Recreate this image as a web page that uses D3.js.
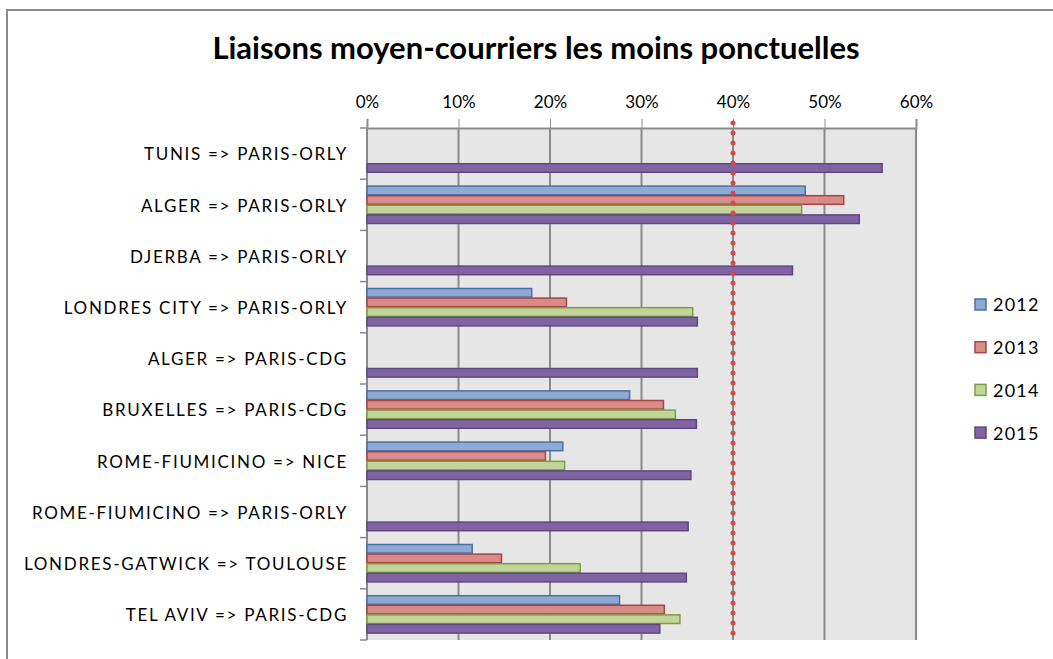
<!DOCTYPE html>
<html>
<head>
<meta charset="utf-8">
<script src="https://cdn.jsdelivr.net/npm/d3@7"></script>
<style>
    body { margin: 0; background: #fff; }
    text { font-family: Lato, "Open Sans", sans-serif; fill: #000; }
</style>
</head>
<body>
<script>
(function(){
    // chart data (percent of late flights)
    var routes = [
        "TUNIS => PARIS-ORLY",
        "ALGER => PARIS-ORLY",
        "DJERBA => PARIS-ORLY",
        "LONDRES CITY => PARIS-ORLY",
        "ALGER => PARIS-CDG",
        "BRUXELLES => PARIS-CDG",
        "ROME-FIUMICINO => NICE",
        "ROME-FIUMICINO => PARIS-ORLY",
        "LONDRES-GATWICK => TOULOUSE",
        "TEL AVIV => PARIS-CDG"
    ];
    var years = ["2012", "2013", "2014", "2015"];
    var v2012 = [null, 47.9, null, 18.0, null, 28.7, 21.4, null, 11.5, 27.6];
    var v2013 = [null, 52.1, null, 21.8, null, 32.4, 19.5, null, 14.7, 32.5];
    var v2014 = [null, 47.5, null, 35.6, null, 33.7, 21.6, null, 23.3, 34.2];
    var v2015 = [56.3, 53.8, 46.5, 36.1, 36.1, 36.0, 35.4, 35.1, 34.9, 32.0];
    var xTicks = [0, 10, 20, 30, 40, 50, 60];
    var threshold = 40;
    var chartTitle = "Liaisons moyen-courriers les moins ponctuelles";

    var seriesValues = [v2012, v2013, v2014, v2015];
    var fills = ["#8EAAD3", "#D78C8A", "#C2D497", "#8064A2"];
    var strokes = ["#4A70A6", "#A84542", "#7E9D46", "#5E4780"];

    var width = 1053,
        height = 659,
        plotLeft = 367,
        plotRight = 916,
        plotTop = 128,
        plotBottom = 640;

    var svg = d3.select("body")
        .append("svg")
        .attr("width", width)
        .attr("height", height);

    // outer chart frame
    svg.append("rect")
        .attr("x", 7)
        .attr("y", 10)
        .attr("width", width + 10)
        .attr("height", height + 10)
        .attr("fill", "#fff")
        .attr("stroke", "#8c8c8c")
        .attr("stroke-width", 2);

    svg.append("text")
        .attr("x", 536)
        .attr("y", 59)
        .attr("text-anchor", "middle")
        .style("font-size", "31px")
        .style("font-weight", "bold")
        .text(chartTitle);

    var x = d3.scaleLinear()
        .domain([0, 60])
        .range([plotLeft, plotRight]);

    var y = d3.scaleBand()
        .domain(routes)
        .range([plotTop, plotBottom])
        .paddingInner(0.25)
        .paddingOuter(0.125);

    var ySeries = d3.scaleBand()
        .domain(years)
        .range([0, y.bandwidth()]);

    // plot area
    svg.append("rect")
        .attr("x", plotLeft)
        .attr("y", plotTop)
        .attr("width", plotRight - plotLeft)
        .attr("height", plotBottom - plotTop)
        .attr("fill", "#e6e6e6");

    svg.append("g")
        .selectAll("line")
        .data(xTicks.slice(1))
        .enter()
        .append("line")
        .attr("x1", d => x(d))
        .attr("x2", d => x(d))
        .attr("y1", plotTop)
        .attr("y2", plotBottom)
        .attr("stroke", "#8a8a8a")
        .attr("stroke-width", 2);

    // top axis
    var xAxis = d3.axisTop(x)
        .tickValues(xTicks)
        .tickSize(9)
        .tickPadding(11)
        .tickFormat(d => d + "%");

    var gx = svg.append("g")
        .attr("transform", "translate(0," + plotTop + ")")
        .call(xAxis);
    gx.select(".domain").attr("stroke", "#8a8a8a").attr("stroke-width", 2);
    gx.selectAll(".tick line").attr("stroke", "#8a8a8a");
    gx.selectAll(".tick text")
        .style("font-size", "17px")
        .style("font-family", "Lato, sans-serif")
        .attr("fill", "#000");

    // left axis with ticks between categories
    var boundaries = routes.map(d => y(d) - y.step() * y.paddingInner() / 2);
    boundaries.push(plotBottom);

    svg.append("line")
        .attr("x1", plotLeft)
        .attr("x2", plotLeft)
        .attr("y1", plotTop)
        .attr("y2", plotBottom)
        .attr("stroke", "#8a8a8a")
        .attr("stroke-width", 2);

    svg.append("g")
        .selectAll("line")
        .data(boundaries)
        .enter()
        .append("line")
        .attr("x1", plotLeft - 7)
        .attr("x2", plotLeft)
        .attr("y1", d => d)
        .attr("y2", d => d)
        .attr("stroke", "#8a8a8a")
        .attr("stroke-width", 1.5);

    svg.append("g")
        .selectAll("text")
        .data(routes)
        .enter()
        .append("text")
        .attr("x", 348)
        .attr("y", d => y(d) + y.bandwidth() / 2)
        .attr("dy", "0.4em")
        .attr("text-anchor", "end")
        .style("font-size", "17px")
        .style("letter-spacing", "1.7px")
        .text(d => d);

    // bars
    years.forEach(function(year, s){
        var rows = routes.map(function(r, i){
            return {route: r, value: seriesValues[s][i]};
        }).filter(d => d.value !== null);

        svg.append("g")
            .selectAll("rect")
            .data(rows)
            .enter()
            .append("rect")
            .attr("x", x(0))
            .attr("y", d => y(d.route) + ySeries(year) + 0.5)
            .attr("width", d => x(d.value) - x(0))
            .attr("height", ySeries.bandwidth() - 1)
            .attr("fill", fills[s])
            .attr("stroke", strokes[s])
            .attr("stroke-width", 1.5);
    });

    // 40% threshold, red dotted line
    svg.append("line")
        .attr("x1", x(threshold))
        .attr("x2", x(threshold))
        .attr("y1", plotTop - 5)
        .attr("y2", plotBottom + 2)
        .attr("stroke", "#d24a48")
        .attr("stroke-width", 5)
        .attr("stroke-linecap", "round")
        .attr("stroke-dasharray", "0 10");

    // legend
    var legend = svg.append("g")
        .selectAll("g")
        .data(years)
        .enter()
        .append("g")
        .attr("transform", (d, i) => "translate(975," + (299 + i * 42.7) + ")");

    legend.append("rect")
        .attr("width", 11)
        .attr("height", 11)
        .attr("fill", (d, i) => fills[i])
        .attr("stroke", (d, i) => strokes[i])
        .attr("stroke-width", 1.5);

    legend.append("text")
        .attr("x", 18)
        .attr("y", 6)
        .attr("dy", "0.36em")
        .style("font-size", "18px")
        .style("letter-spacing", "1.2px")
        .text(d => d);
})();
</script>
</body>
</html>
